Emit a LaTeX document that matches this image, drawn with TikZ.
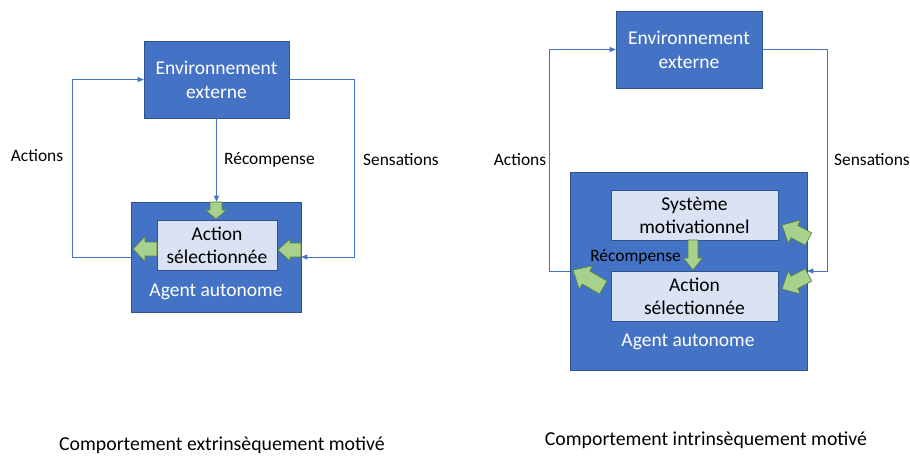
\documentclass[tikz,border=0pt]{standalone}
\usepackage{fontspec}
\setmainfont{Carlito}
\usetikzlibrary{arrows.meta}
\definecolor{boxblue}{HTML}{4472C4}
\definecolor{boxedge}{HTML}{2F528F}
\definecolor{inner}{HTML}{DAE3F3}
\definecolor{gfill}{HTML}{A9D18E}
\definecolor{gedge}{HTML}{548235}
\definecolor{conncol}{HTML}{4472C4}
\tikzset{
  bluebox/.style={draw=boxedge, line width=0.6pt, fill=boxblue, inner sep=0pt, text=white,
    font=\fontsize{19.5}{24}\selectfont, align=center},
  innerbox/.style={draw=boxedge, line width=0.5pt, fill=inner, inner sep=0pt, text=black,
    font=\fontsize{19.5}{23}\selectfont, align=center},
  agenttext/.style={text=white, font=\fontsize{19.5}{24}\selectfont, inner sep=0pt},
  lbl/.style={text=black, font=\fontsize{17.4}{20}\selectfont, inner sep=0pt},
  ttl/.style={text=black, font=\fontsize{19.8}{23}\selectfont, inner sep=0pt},
  conn/.style={draw=conncol, line width=0.8pt, -{Triangle[length=6pt,width=5pt]}},
  garr/.style={draw=gedge, line width=0.6pt, fill=gfill, line join=miter},
}
\newcommand{\blockarr}[7]{\draw[garr, shift={(#1,#2)}, rotate=#3] (0,0) -- (-#5,#6/2) -- (-#5,#7/2) -- (-#4,#7/2) -- (-#4,-#7/2) -- (-#5,-#7/2) -- (-#5,-#6/2) -- cycle;}
\begin{document}
\begin{tikzpicture}[x=1pt,y=-1pt]
\useasboundingbox[fill=white] (0,0) rectangle (910,457);

% ---------- left diagram ----------
\node[bluebox, minimum width=145pt, minimum height=77pt] (env1) at (216.5,79.5) {Environnement\\externe};
\node[bluebox, minimum width=170pt, minimum height=110pt] (agent1) at (216,257) {};
\node[innerbox, minimum width=120pt, minimum height=50pt] (act1) at (217,245) {Action\\sélectionnée};
\node[agenttext] (ag1txt) at (216,292) {Agent autonome};

\draw[conn] (agent1.west) -- ++(-58,0) |- (env1.west);
\draw[conn] (env1.east) -- ++(65,0) |- (agent1.east);
\draw[conn] (env1.south) -- (env1.south |- agent1.north);

\node[lbl] (actlbl1) at (37,156) {Actions};
\node[lbl, anchor=west] (reclbl1) at (224,160) {Récompense};
\node[lbl, anchor=west] (senlbl1) at (363,160) {Sensations};

\blockarr{216}{219}{270}{17}{9}{21}{12}
\blockarr{133}{249}{180}{24}{12}{25}{14}
\blockarr{278}{250}{180}{23}{12}{22}{14}

% ---------- right diagram ----------
\node[bluebox, minimum width=146pt, minimum height=77pt] (env2) at (689,49.5) {Environnement\\externe};
\node[bluebox, minimum width=237pt, minimum height=198pt] (agent2) at (688.5,271) {};
\node[innerbox, minimum width=167pt, minimum height=50pt] (sys2) at (694.5,215) {Système\\motivationnel};
\node[innerbox, minimum width=167pt, minimum height=50pt] (act2) at (694.5,296) {Action\\sélectionnée};
\node[agenttext] (ag2txt) at (688,342) {Agent autonome};

\draw[conn] (agent2.west) -- ++(-20,0) |- (env2.west);
\draw[conn] (env2.east) -- ++(65,0) |- (agent2.east);

\node[lbl] (actlbl2) at (520,160) {Actions};
\node[lbl, anchor=west] (senlbl2) at (834,160) {Sensations};
\node[lbl, anchor=east] (reclbl2) at (681,257) {Récompense};

\blockarr{693}{270}{270}{30}{12}{19}{10}
\blockarr{782}{225}{152}{30}{14}{26}{14}
\blockarr{782}{289}{208}{30}{14}{26}{14}
\blockarr{573}{270}{150}{35}{15}{27}{15}

% ---------- titles ----------
\node[ttl] (t1) at (222,445) {Comportement extrinsèquement motivé};
\node[ttl] (t2) at (706,440) {Comportement intrinsèquement motivé};
\end{tikzpicture}
\end{document}
